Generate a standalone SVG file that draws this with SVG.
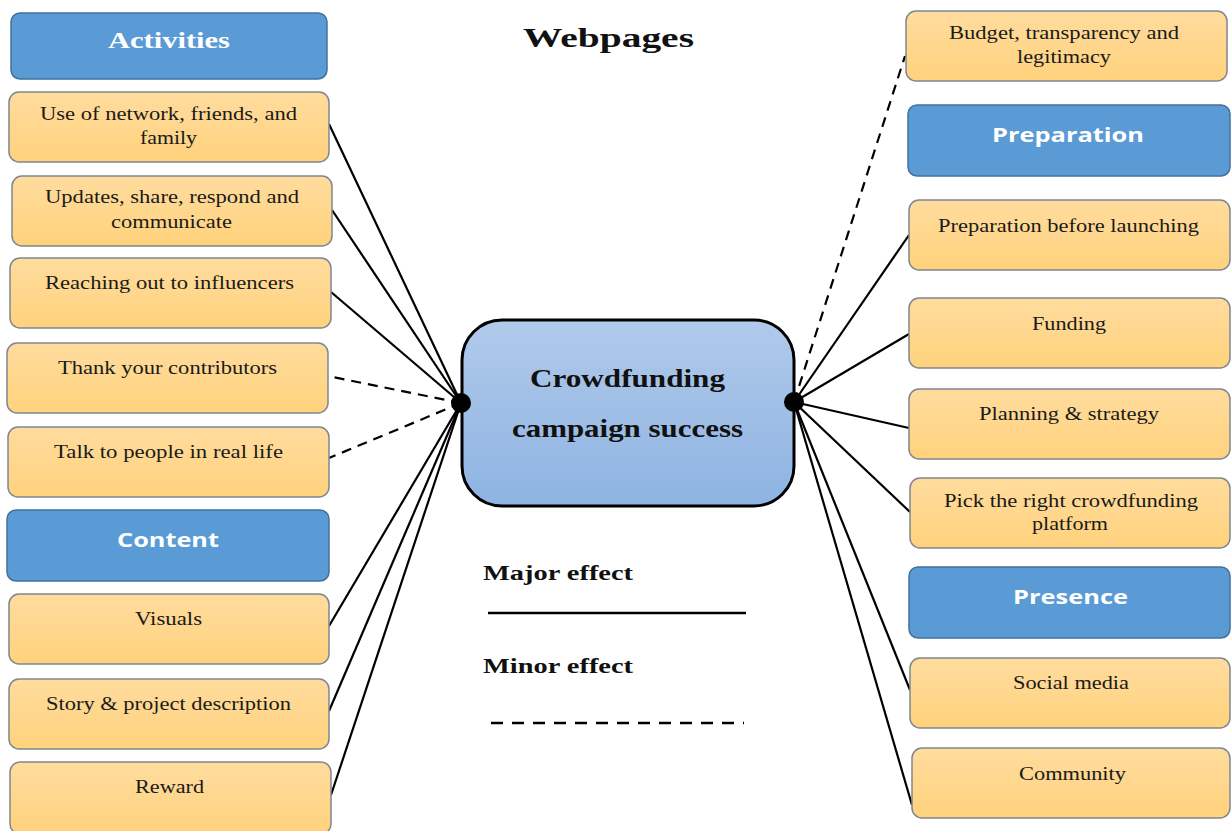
<svg xmlns="http://www.w3.org/2000/svg" width="1231" height="831" viewBox="0 0 1231 831">
<defs>
<linearGradient id="og" x1="0" y1="0" x2="0" y2="1"><stop offset="0" stop-color="#FFDC9E"/><stop offset="1" stop-color="#FFD27C"/></linearGradient>
<linearGradient id="cg" x1="0" y1="0" x2="0" y2="1"><stop offset="0" stop-color="#B0CAEA"/><stop offset="1" stop-color="#8EB3E2"/></linearGradient>
<style>
.item{fill:url(#og);stroke:#7F8690;stroke-width:1.5}
.head{fill:#5B9BD5;stroke:#41719C;stroke-width:1.5}
.t{font-family:"Liberation Serif",serif;font-size:18px;fill:#1a1a1a}
.hs{font-family:"Open Sans","Liberation Sans",sans-serif;font-weight:bold;font-size:20px;fill:#fff}
.hb{font-family:"Liberation Serif",serif;font-weight:bold;font-size:24px;fill:#fff}
.b{font-family:"Liberation Serif",serif;font-weight:bold;fill:#111}
.c{stroke:#000;stroke-width:2.2;fill:none}
.d{stroke-dasharray:10,7}
</style>
</defs>
<rect width="1231" height="831" fill="#fff"/>
<text class="b" x="523" y="47" font-size="27" textLength="171" lengthAdjust="spacingAndGlyphs">Webpages</text>

<g id="connectors">
<line class="c" x1="461" y1="403" x2="329" y2="124"/>
<line class="c" x1="461" y1="403" x2="332" y2="210"/>
<line class="c" x1="461" y1="403" x2="331" y2="292"/>
<line class="c d" x1="461" y1="403" x2="328" y2="376"/>
<line class="c d" x1="461" y1="403" x2="329" y2="458"/>
<line class="c" x1="461" y1="403" x2="329" y2="626"/>
<line class="c" x1="461" y1="403" x2="329" y2="711"/>
<line class="c" x1="461" y1="403" x2="331" y2="795"/>
<line class="c d" x1="794" y1="402" x2="905" y2="56"/>
<line class="c" x1="794" y1="402" x2="909" y2="235"/>
<line class="c" x1="794" y1="402" x2="909" y2="334"/>
<line class="c" x1="794" y1="402" x2="909" y2="428"/>
<line class="c" x1="794" y1="402" x2="910" y2="512"/>
<line class="c" x1="794" y1="402" x2="910" y2="690"/>
<line class="c" x1="794" y1="402" x2="912" y2="805"/>
</g>

<g id="center">
<rect x="462" y="320" width="332" height="186" rx="40" fill="url(#cg)" stroke="#000" stroke-width="3"/>
<text class="b" x="530" y="387" font-size="25" textLength="195" lengthAdjust="spacingAndGlyphs">Crowdfunding</text>
<text class="b" x="512" y="437" font-size="25" textLength="231" lengthAdjust="spacingAndGlyphs">campaign success</text>
<circle cx="461" cy="403" r="10" fill="#000"/>
<circle cx="794" cy="402" r="10" fill="#000"/>
</g>

<g id="activities"><rect class="head" x="11" y="13" width="316" height="66" rx="9"/><text class="hb" x="108" y="48" textLength="122" lengthAdjust="spacingAndGlyphs">Activities</text></g>
<g id="network"><rect class="item" x="9" y="92" width="320" height="70" rx="10"/><text class="t" x="40" y="120" textLength="257" lengthAdjust="spacingAndGlyphs">Use of network, friends, and</text><text class="t" x="140" y="144" textLength="57" lengthAdjust="spacingAndGlyphs">family</text></g>
<g id="updates"><rect class="item" x="12" y="176" width="320" height="70" rx="10"/><text class="t" x="45" y="203" textLength="254" lengthAdjust="spacingAndGlyphs">Updates, share, respond and</text><text class="t" x="111" y="228" textLength="121" lengthAdjust="spacingAndGlyphs">communicate</text></g>
<g id="influencers"><rect class="item" x="10" y="258" width="321" height="70" rx="10"/><text class="t" x="45" y="289" textLength="249" lengthAdjust="spacingAndGlyphs">Reaching out to influencers</text></g>
<g id="thank"><rect class="item" x="7" y="343" width="321" height="70" rx="10"/><text class="t" x="58" y="374" textLength="219" lengthAdjust="spacingAndGlyphs">Thank your contributors</text></g>
<g id="talk"><rect class="item" x="8" y="427" width="321" height="70" rx="10"/><text class="t" x="54" y="458" textLength="229" lengthAdjust="spacingAndGlyphs">Talk to people in real life</text></g>
<g id="content"><rect class="head" x="7" y="510" width="322" height="71" rx="9"/><text class="hs" x="117" y="547" textLength="102" lengthAdjust="spacingAndGlyphs">Content</text></g>
<g id="visuals"><rect class="item" x="9" y="594" width="320" height="70" rx="10"/><text class="t" x="135" y="625" textLength="67" lengthAdjust="spacingAndGlyphs">Visuals</text></g>
<g id="story"><rect class="item" x="9" y="679" width="320" height="70" rx="10"/><text class="t" x="46" y="710" textLength="245" lengthAdjust="spacingAndGlyphs">Story &amp; project description</text></g>
<g id="reward"><rect class="item" x="10" y="762" width="321" height="72" rx="10"/><text class="t" x="135" y="793" textLength="69" lengthAdjust="spacingAndGlyphs">Reward</text></g>

<g id="budget"><rect class="item" x="906" y="11" width="321" height="70" rx="10"/><text class="t" x="949" y="39" textLength="230" lengthAdjust="spacingAndGlyphs">Budget, transparency and</text><text class="t" x="1017" y="63" textLength="94" lengthAdjust="spacingAndGlyphs">legitimacy</text></g>
<g id="preparation"><rect class="head" x="908" y="105" width="322" height="71" rx="9"/><text class="hs" x="992" y="142" textLength="152" lengthAdjust="spacingAndGlyphs">Preparation</text></g>
<g id="before"><rect class="item" x="909" y="200" width="321" height="70" rx="10"/><text class="t" x="938" y="232" textLength="261" lengthAdjust="spacingAndGlyphs">Preparation before launching</text></g>
<g id="funding"><rect class="item" x="909" y="298" width="321" height="70" rx="10"/><text class="t" x="1032" y="330" textLength="74" lengthAdjust="spacingAndGlyphs">Funding</text></g>
<g id="planning"><rect class="item" x="909" y="389" width="321" height="70" rx="10"/><text class="t" x="979" y="420" textLength="180" lengthAdjust="spacingAndGlyphs">Planning &amp; strategy</text></g>
<g id="platform"><rect class="item" x="910" y="478" width="320" height="70" rx="10"/><text class="t" x="944" y="507" textLength="254" lengthAdjust="spacingAndGlyphs">Pick the right crowdfunding</text><text class="t" x="1032" y="530" textLength="76" lengthAdjust="spacingAndGlyphs">platform</text></g>
<g id="presence"><rect class="head" x="909" y="567" width="321" height="71" rx="9"/><text class="hs" x="1013" y="604" textLength="115" lengthAdjust="spacingAndGlyphs">Presence</text></g>
<g id="social"><rect class="item" x="910" y="658" width="320" height="70" rx="10"/><text class="t" x="1013" y="689" textLength="116" lengthAdjust="spacingAndGlyphs">Social media</text></g>
<g id="community"><rect class="item" x="912" y="748" width="318" height="70" rx="10"/><text class="t" x="1019" y="780" textLength="107" lengthAdjust="spacingAndGlyphs">Community</text></g>

<g id="legend">
<text class="b" x="483" y="580" font-size="22" textLength="150" lengthAdjust="spacingAndGlyphs">Major effect</text>
<line x1="488" y1="613" x2="746" y2="613" stroke="#000" stroke-width="2.5"/>
<text class="b" x="483" y="673" font-size="22" textLength="150" lengthAdjust="spacingAndGlyphs">Minor effect</text>
<line x1="491" y1="723" x2="744" y2="723" stroke="#000" stroke-width="2.5" stroke-dasharray="12,9"/>
</g>
</svg>
